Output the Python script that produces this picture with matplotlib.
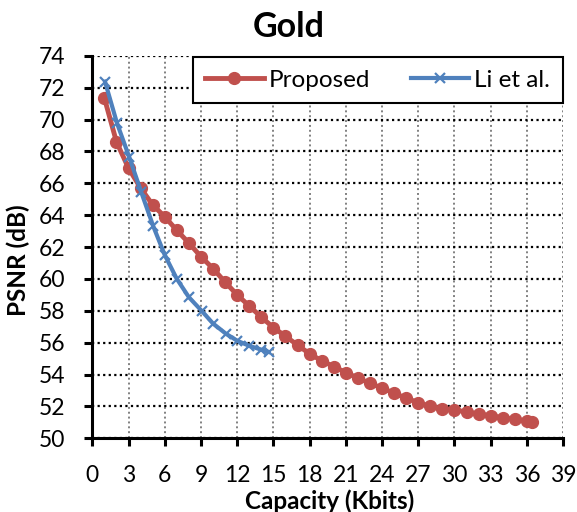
"""PSNR vs capacity, Gold image: Proposed vs Li et al."""

import matplotlib
matplotlib.use('Agg')
import matplotlib.pyplot as plt

plt.rcParams['font.family'] = ['Lato', 'DejaVu Sans']

proposed_x = [1, 2, 3, 4, 5, 6, 7, 8, 9, 10, 11, 12, 13, 14, 15, 16, 17, 18,
              19, 20, 21, 22, 23, 24, 25, 26, 27, 28, 29, 30, 31, 32, 33, 34,
              35, 36, 36.4]
proposed_y = [71.35, 68.6, 66.95, 65.7, 64.65, 63.9, 63.05, 62.25, 61.4, 60.65,
              59.8, 59.0, 58.3, 57.6, 56.95, 56.4, 55.85, 55.3, 54.87, 54.5,
              54.12, 53.78, 53.45, 53.15, 52.83, 52.52, 52.24, 52.0, 51.86,
              51.78, 51.65, 51.52, 51.42, 51.29, 51.19, 51.09, 51.04]

li_x = [1.05, 2.05, 3.05, 4.05, 5.05, 6.0, 7.0, 8.0, 9.05, 10.0, 11.05, 12.0,
        13.0, 13.95, 14.6]
li_y = [72.38, 69.76, 67.66, 65.45, 63.3, 61.5, 60.0, 58.85, 58.0, 57.2, 56.57,
        56.12, 55.8, 55.57, 55.42]

x_ticks = list(range(0, 40, 3))
y_ticks = list(range(50, 75, 2))

fig = plt.figure(figsize=(5.77, 5.12), dpi=100)
ax = fig.add_axes([0.16, 0.144, 0.816, 0.747])

ax.plot(proposed_x, proposed_y, color='#C0504D', lw=3.5, marker='o',
        markersize=8.5, label='Proposed', zorder=3)
ax.plot(li_x, li_y, color='#4F81BD', lw=3.0, marker='x', markersize=7.5,
        markeredgewidth=1.6, label='Li et al.', zorder=4)

ax.set_xlim(0, 39)
ax.set_ylim(50, 74)
ax.set_xticks(x_ticks)
ax.set_yticks(y_ticks)

ax.grid(axis='y', color='black', linestyle=(0, (1, 1.5)), lw=1.6)
ax.grid(axis='x', color='#808080', linestyle=(0, (1, 1.5)), lw=1.4)
ax.set_axisbelow(True)

for side in ('top', 'right'):
    ax.spines[side].set_visible(False)
for side in ('left', 'bottom'):
    ax.spines[side].set_linewidth(2.2)
ax.tick_params(direction='out', length=5.5, width=2.2, labelsize=16.5)
ax.tick_params(axis='y', pad=14)
ax.tick_params(axis='x', pad=14)

ax.set_xlabel('Capacity (Kbits)', fontsize=17.5, fontweight='bold')
ax.set_ylabel('PSNR (dB)', fontsize=17.5, fontweight='bold')
ax.xaxis.set_label_coords(0.503, -0.135)
ax.yaxis.set_label_coords(-0.132, 0.465)
fig.text(0.5, 0.948, 'Gold', ha='center', va='center', fontsize=24.5,
         fontweight='bold')

leg = ax.legend(loc='upper left', bbox_to_anchor=(0.213, 0.997), ncol=2,
                fontsize=17.5, frameon=True, fancybox=False, edgecolor='black',
                handlelength=2.4, columnspacing=1.7, borderpad=0.52,
                handletextpad=0.2, borderaxespad=0)
leg.get_frame().set_linewidth(1.5)
leg.get_frame().set_alpha(1)

fig.savefig('out.png', dpi=100)
